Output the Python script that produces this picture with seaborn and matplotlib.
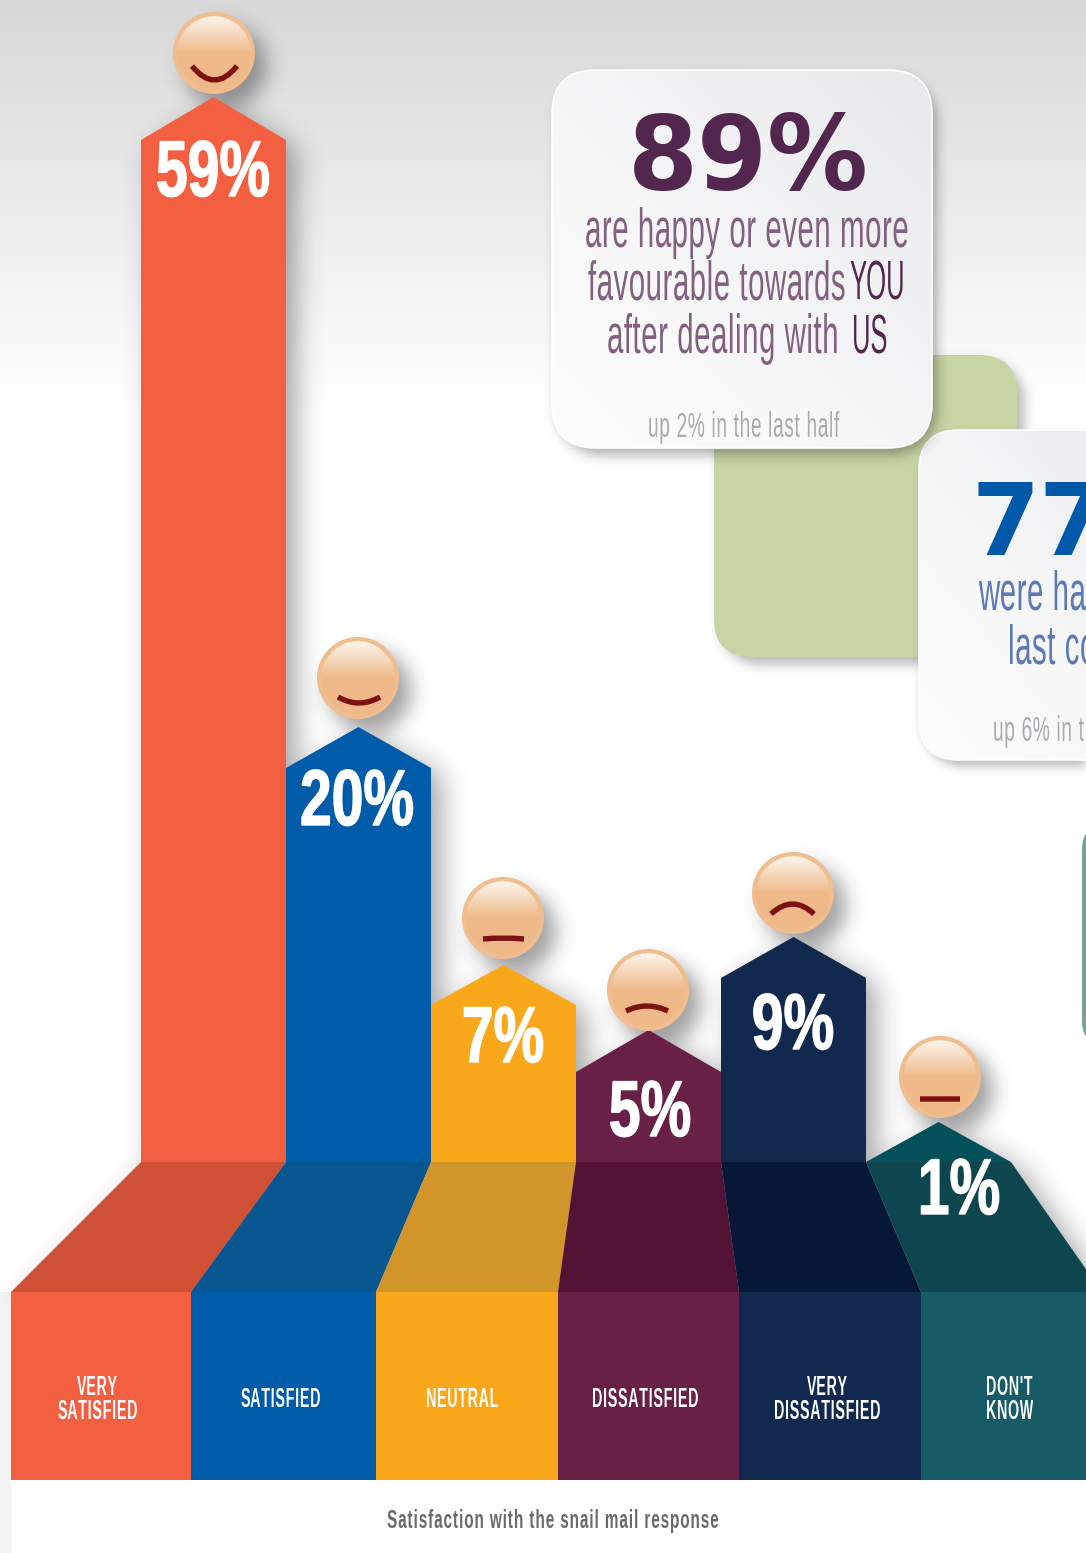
import os
import tempfile

import matplotlib
matplotlib.use("Agg")
import matplotlib.font_manager as fm
import matplotlib.patheffects as pe
import matplotlib.pyplot as plt
import numpy as np
import pandas as pd
import seaborn as sns
from fontTools.ttLib import TTFont
from matplotlib.patches import Circle, FancyBboxPatch, PathPatch, Polygon
from matplotlib.path import Path

# ---- survey results -------------------------------------------------------
categories = ["Very satisfied", "Satisfied", "Neutral", "Dissatisfied",
              "Very dissatisfied", "Don't know"]
shares = [59, 20, 7, 5, 9, 1]
panel_labels = ["VERY\nSATISFIED", "SATISFIED", "NEUTRAL", "DISSATISFIED",
                "VERY\nDISSATISFIED", "DON'T\nKNOW"]
caption = "Satisfaction with the snail mail response"

# ---- colours --------------------------------------------------------------
bar_colors = ["#f36041", "#005ca9", "#f9a81c", "#692046", "#12294f", "#03505a"]
floor_colors = ["#cf5034", "#07568f", "#d2952a", "#531335", "#071738", "#0e464f"]
front_colors = ["#f36041", "#005ca9", "#f9a81c", "#692046", "#12294f", "#165b65"]
PLUM, PLUM_SOFT = "#52264f", "#836080"
BLUE, BLUE_SOFT = "#0058a8", "#5b79b5"
GREY_NOTE = "#a8aaad"

W, H = 1086, 1553
BASE_Y = 1162
FLOOR_Y = 1292
FRONT_BOTTOM = 1480
cap_rises = [43, 41, 40, 42, 41, 40]
floor_edges = [11, 191, 376, 558, 739, 921, 1102]
label_baselines = [197, 826, 1063, 1137, 1050, 1215]
label_x = [213, 357, 503, 650, 793, 959]
panel_label_x = [98, 281, 463, 646, 828, 1010]
face_centres = [(214, 53), (358, 678), (503, 918), (648, 990), (793, 893), (940, 1077)]
# mouth ends (x0, x1), height of the ends, curve depth
mouths = [(192, 237, 66, 14), (338, 380, 697, 6), (483, 524, 939, -1),
          (626, 668, 1011, -5), (771, 814, 914, -10), (920, 960, 1099, 0)]


# ---- condensed faces derived from the installed families -------------------
def make_face(family, weight, factor, tracking, new_name, folder):
    src = fm.findfont(fm.FontProperties(family=family, weight=weight))
    font = TTFont(src)
    glyf, hmtx = font["glyf"], font["hmtx"]
    for name in font.getGlyphOrder():
        g = glyf[name]
        g.removeHinting()
        if g.isComposite():
            for comp in g.components:
                comp.x = round(comp.x * factor)
        elif g.numberOfContours > 0:
            g.coordinates.scale((factor, 1))
            g.coordinates.toInt()
        adv, lsb = hmtx[name]
        hmtx[name] = (round(adv * factor) + tracking, round(lsb * factor))
    for name in font.getGlyphOrder():
        glyf[name].recalcBounds(glyf)
    for table in ("kern", "GPOS", "GSUB", "hdmx", "VDMX", "LTSH", "fpgm", "prep", "cvt "):
        if table in font:
            del font[table]
    for rec in font["name"].names:
        if rec.nameID in (1, 4, 16):
            rec.string = new_name
        elif rec.nameID in (3, 6):
            rec.string = new_name.replace(" ", "")
    path = os.path.join(folder, new_name.replace(" ", "") + ".ttf")
    font.save(path)
    fm.fontManager.addfont(path)
    return new_name


font_dir = tempfile.mkdtemp()
BODY = make_face("Liberation Sans", "normal", 0.53, 20, "Survey Cond", font_dir)
EMPH = make_face("Liberation Sans", "normal", 0.46, 0, "Survey Emph", font_dir)
NOTE = make_face("Liberation Sans", "normal", 0.55, 41, "Survey Note", font_dir)
LABEL = make_face("Liberation Sans", "bold", 0.50, 50, "Survey Label", font_dir)
CAPTION = make_face("Liberation Sans", "bold", 0.58, 70, "Survey Caption", font_dir)
FIGURE = make_face("Liberation Sans", "bold", 0.72, 0, "Survey Figure", font_dir)
HEAVY = make_face("DejaVu Sans", "bold", 0.98, 0, "Survey Heavy", font_dir)


# ---- raster helpers for gradients and soft shadows -------------------------
yy, xx = np.mgrid[0:H, 0:W] + 0.5


def hex_rgb(c):
    return np.array(matplotlib.colors.to_rgb(c))


def blur(a, sigma):
    pad = int(4 * sigma)
    shape = (a.shape[0] + pad, a.shape[1] + pad)
    fy = np.fft.fftfreq(shape[0])[:, None]
    fx = np.fft.rfftfreq(shape[1])[None, :]
    spec = np.fft.rfft2(a, s=shape) * np.exp(-2 * np.pi ** 2 * sigma ** 2 * (fx ** 2 + fy ** 2))
    return np.fft.irfft2(spec, s=shape)[: a.shape[0], : a.shape[1]]


def round_rect_mask(x0, y0, x1, y1, r):
    qx = np.abs(xx - (x0 + x1) / 2) - (x1 - x0) / 2 + r
    qy = np.abs(yy - (y0 + y1) / 2) - (y1 - y0) / 2 + r
    d = np.hypot(np.maximum(qx, 0), np.maximum(qy, 0)) + np.minimum(np.maximum(qx, qy), 0) - r
    return (d < 0).astype(float)


def poly_mask(points):
    grid = np.column_stack([xx.ravel(), yy.ravel()])
    return Path(points).contains_points(grid).reshape(H, W).astype(float)


def add_shadow(ax, mask, dx, dy, sigma, strength, zorder):
    moved = np.zeros_like(mask)
    moved[dy:, dx:] = mask[: H - dy, : W - dx]
    soft = blur(moved, sigma)
    rgba = np.zeros((H, W, 4))
    rgba[..., :3] = 0.12
    rgba[..., 3] = np.clip(soft, 0, 1) * strength
    ax.imshow(rgba, extent=(0, W, H, 0), aspect="auto", zorder=zorder, interpolation="nearest")


def add_card(ax, x0, y0, x1, y1, r, zorder):
    patch = FancyBboxPatch((x0, y0), x1 - x0, y1 - y0,
                           boxstyle=f"round,pad=0,rounding_size={r}",
                           fc="none", ec="#ffffff", lw=1.2, zorder=zorder + 1)
    ax.add_patch(patch)
    n = 120
    v, u = np.mgrid[0:1:n * 1j, 0:1:n * 1j]
    t = np.clip((u + (1 - v)) / 2, 0, 1)[..., None] ** 1.4
    grad = hex_rgb("#fdfdfd") * (1 - t) + hex_rgb("#e6e8ea") * t
    img = ax.imshow(grad, extent=(x0, x1, y1, y0), aspect="auto", zorder=zorder,
                    interpolation="bilinear")
    clip = FancyBboxPatch((x0, y0), x1 - x0, y1 - y0,
                          boxstyle=f"round,pad=0,rounding_size={r}",
                          transform=ax.transData, fc="none", ec="none")
    ax.add_patch(clip)
    img.set_clip_path(clip)


def add_face(ax, cx, cy, zorder, radius=41):
    n = 4 * radius
    v, u = np.mgrid[-1:1:n * 1j, -1:1:n * 1j]
    skin = hex_rgb("#eeb988")
    inner = radius - 4
    t = np.clip((v * radius + inner) / inner, 0, 1)[..., None]
    sheen = hex_rgb("#fdf6ee") * (1 - t) + skin * t
    inside = (np.hypot(u, v) * radius < inner)[..., None]
    rgb = np.where(inside, sheen, hex_rgb("#f0bd8e"))
    img = ax.imshow(rgb, extent=(cx - radius, cx + radius, cy + radius, cy - radius),
                    aspect="auto", zorder=zorder, interpolation="bilinear")
    clip = Circle((cx, cy), radius, transform=ax.transData, fc="none", ec="none")
    ax.add_patch(clip)
    img.set_clip_path(clip)


# ---- figure and its layers -------------------------------------------------
sns.set_theme(style="white")
fig = plt.figure(figsize=(W / 100, H / 100), dpi=100, facecolor="white")


def pixel_axes(zorder):
    ax = fig.add_axes([0, 0, 1, 1], zorder=zorder)
    ax.set_axis_off()
    ax.patch.set_alpha(0)
    return ax


ax_back = pixel_axes(0)
ax_bars = fig.add_axes([141 / W, (H - BASE_Y) / H, 870 / W, BASE_Y / H], zorder=1)
ax_front = pixel_axes(2)

# Survey bars: the value axis is compressed towards the small shares so the
# low bars stay tall enough to carry their labels.
share_knots = [0, 1, 5, 7, 9, 20, 59, 67.7]
height_knots = [-20, 0, 90, 157, 184, 394, 1022, 1162]


def share_to_height(v):
    return np.interp(v, share_knots, height_knots)


def height_to_share(h):
    return np.interp(h, height_knots, share_knots)


table = pd.DataFrame({"category": categories, "share": shares})
sns.barplot(data=table, x="category", y="share", hue="category", order=categories,
            hue_order=categories, palette=bar_colors, saturation=1, width=1, gap=0,
            dodge=False, legend=False, linewidth=0, ax=ax_bars)
ax_bars.set_yscale("function", functions=(share_to_height, height_to_share))
ax_bars.set_xlim(-0.5, 5.5)
ax_bars.set_ylim(1, 67.7)
ax_bars.set_axis_off()
ax_bars.patch.set_alpha(0)

# Bar outlines in figure pixels, read back from the drawn bars
ax_front.set_xlim(0, W)
ax_front.set_ylim(H, 0)
ax_back.set_xlim(0, W)
ax_back.set_ylim(H, 0)
to_pixels = ax_front.transData.inverted()
outlines = []
for bar in ax_bars.patches[: len(shares)]:
    left = bar.get_x()
    right = left + bar.get_width()
    top = bar.get_y() + bar.get_height()
    (xl, yt) = to_pixels.transform(ax_bars.transData.transform((left, top)))
    (xr, _) = to_pixels.transform(ax_bars.transData.transform((right, top)))
    outlines.append((xl, xr, yt))

# Backdrop: grey fade at the top of the page
fade = np.clip(np.linspace(0, 1, H) * H / 405, 0, 1)[:, None, None]
back = hex_rgb("#d8d8d8") * (1 - fade) + hex_rgb("#ffffff") * fade
ax_back.imshow(back, extent=(0, W, H, 0), aspect="auto", zorder=0, interpolation="bilinear")
ax_back.fill_between([0, 11], FLOOR_Y, H, color="#f2f2f2", lw=0, zorder=0.5)

# Shadows behind the bars and the floor
shape_mask = np.zeros((H, W))
for i, (xl, xr, yt) in enumerate(outlines):
    shape_mask = np.maximum(shape_mask, poly_mask(
        [(xl, BASE_Y), (xl, yt), ((xl + xr) / 2, yt - cap_rises[i]), (xr, yt), (xr, BASE_Y)]))
    shape_mask = np.maximum(shape_mask, poly_mask(
        [(xl, BASE_Y), (xr, BASE_Y), (floor_edges[i + 1], FLOOR_Y), (floor_edges[i], FLOOR_Y)]))
add_shadow(ax_back, shape_mask, 11, 8, 13, 0.38, 1)

# Shadows of the faces
face_mask = np.zeros((H, W))
for cx, cy in face_centres:
    face_mask = np.maximum(face_mask, (np.hypot(xx - cx, yy - cy) < 41).astype(float))
add_shadow(ax_back, face_mask, 12, 13, 10, 0.42, 1.5)

# Green panels and the white cards laid over them
green_mask = round_rect_mask(714, 355, 1017, 657, 38)
add_shadow(ax_back, green_mask, 7, 7, 6, 0.32, 2)
ax_back.add_patch(FancyBboxPatch((714, 355), 303, 302, boxstyle="round,pad=0,rounding_size=38",
                                 fc="#c6d5a3", ec="none", zorder=3))
teal_mask = round_rect_mask(1082, 825, 1200, 1045, 30)
add_shadow(ax_back, teal_mask, 7, 7, 6, 0.25, 3.2)
ax_back.add_patch(FancyBboxPatch((1082, 825), 118, 220, boxstyle="round,pad=0,rounding_size=24",
                                 fc="#74a58a", ec="none", zorder=3.4))
add_shadow(ax_back, round_rect_mask(919, 430, 1200, 760, 40), 4, 6, 5, 0.32, 4)
add_card(ax_back, 919, 430, 1200, 760, 40, 5)
add_shadow(ax_back, round_rect_mask(552, 70, 932, 448, 44), 5, 7, 6, 0.36, 7)
add_card(ax_back, 552, 70, 932, 448, 44, 8)
ax_back.set_xlim(0, W)
ax_back.set_ylim(H, 0)

# Pentagon caps, floor planes and front panels
thicken = [pe.withStroke(linewidth=1.0, foreground="white")]
for i, (xl, xr, yt) in enumerate(outlines):
    ax_front.add_patch(Polygon([(xl, yt), ((xl + xr) / 2, yt - cap_rises[i]), (xr, yt)],
                               closed=True, fc=bar_colors[i], ec="none", zorder=1))
    ax_front.add_patch(Polygon([(xl, BASE_Y), (xr, BASE_Y), (floor_edges[i + 1], FLOOR_Y),
                                (floor_edges[i], FLOOR_Y)],
                               closed=True, fc=floor_colors[i], ec="none", zorder=2))
    ax_front.fill_between([floor_edges[i], floor_edges[i + 1]], FLOOR_Y, FRONT_BOTTOM,
                          color=front_colors[i], lw=0, zorder=2)
    ax_front.text(label_x[i], label_baselines[i] - 1, f"{shares[i]}%", color="white",
                  family=FIGURE, size=57, ha="center", va="baseline", zorder=5,
                  path_effects=thicken)
    ax_front.text(panel_label_x[i], 1400, panel_labels[i], color="white", family=LABEL,
                  size=20.5, ha="center", va="center", linespacing=0.92,
                  multialignment="center", zorder=5)

# Faces with their mouths
for (cx, cy), (mx0, mx1, my, depth) in zip(face_centres, mouths):
    add_face(ax_front, cx, cy, 3)
    mouth = Path([(mx0, my), ((mx0 + mx1) / 2, my + 2 * depth), (mx1, my)],
                 [Path.MOVETO, Path.CURVE3, Path.CURVE3])
    ax_front.add_patch(PathPatch(mouth, fc="none", ec="#7d1010", lw=3.9,
                                 capstyle="butt", zorder=4))
ax_front.set_xlim(0, W)
ax_front.set_ylim(H, 0)

# Caption
ax_front.text(553.5, 1528, caption, color="#6a6a6a", family=CAPTION, size=19,
              ha="center", va="baseline", zorder=5)

# First card
ax_front.text(748, 190, "89%", color=PLUM, family=HEAVY, size=74, ha="center", va="baseline", zorder=5)
ax_front.text(747, 247, "are happy or even more", color=PLUM_SOFT, family=BODY, size=40,
              ha="center", va="baseline", zorder=5)
ax_front.text(588, 300, "favourable towards", color=PLUM_SOFT, family=BODY, size=40,
              ha="left", va="baseline", zorder=5)
ax_front.text(905, 300, "YOU", color=PLUM, family=EMPH, size=40, ha="right", va="baseline", zorder=5)
ax_front.text(607, 353, "after dealing with", color=PLUM_SOFT, family=BODY, size=40,
              ha="left", va="baseline", zorder=5)
ax_front.text(887, 353, "US", color=PLUM, family=EMPH, size=40, ha="right", va="baseline", zorder=5)
ax_front.text(744, 437, "up 2% in the last half", color=GREY_NOTE, family=NOTE, size=25,
              ha="center", va="baseline", zorder=5)

# Second card, running off the page edge
ax_front.text(971, 555, "77%", color=BLUE, family=HEAVY, size=72, ha="left", va="baseline", zorder=5)
ax_front.text(978, 610, "were happy", color=BLUE_SOFT, family=BODY, size=40, ha="left", va="baseline", zorder=5)
ax_front.text(1008, 663, "last contact", color=BLUE_SOFT, family=BODY, size=40, ha="left", va="baseline", zorder=5)
ax_front.text(993, 741, "up 6% in the last half", color=GREY_NOTE, family=NOTE, size=25, ha="left", va="baseline", zorder=5)

fig.savefig("out.png", dpi=100)
